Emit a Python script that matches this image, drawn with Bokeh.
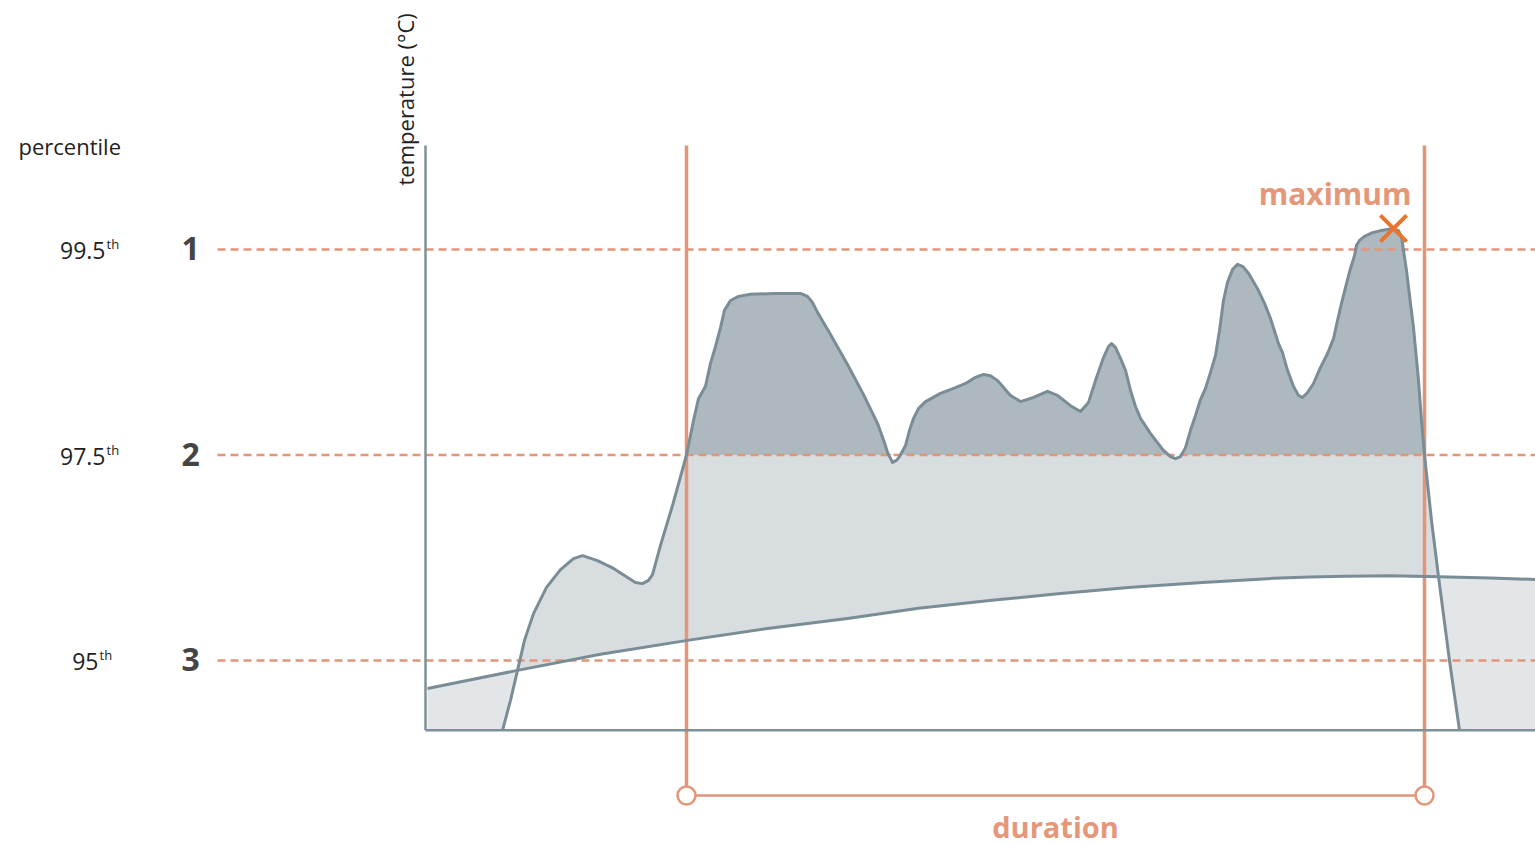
import math
import numpy as np
from bokeh.plotting import figure
from bokeh.models import Range1d, Label
from bokeh.embed import file_html
from bokeh.resources import INLINE

# ---------------- data (time index, temperature in degC) ----------------
obs_t = [7.7, 8.5, 9.2, 9.9, 10.8, 12.1, 13.5, 14.8, 15.7, 17.2, 18.8, 20.2, 21.0, 21.7, 22.3, 22.7,
         23.5, 24.7, 26.1, 26.8, 27.3, 28.0, 28.5, 29.0, 29.5, 29.9, 30.5, 31.3, 32.5, 35.0, 37.5,
         38.2, 38.7, 39.2, 40.5, 42.2, 43.8, 45.2, 45.9, 46.2, 46.7, 47.1, 47.4, 48.0, 48.4, 48.8,
         49.3, 50.0, 51.5, 53.0, 54.0, 55.0, 55.8, 56.5, 57.2, 58.5, 59.5, 60.8, 62.2, 63.2, 64.5,
         65.5, 66.3, 67.0, 67.8, 68.3, 68.6, 69.0, 69.5, 70.0, 70.5, 71.0, 71.5, 72.5, 73.8, 74.5,
         75.0, 75.5, 76.0, 76.5, 77.0, 77.5, 78.0, 78.5, 79.0, 79.4, 79.8, 80.2, 80.7, 81.2, 81.7,
         82.3, 83.3, 83.9, 84.5, 85.3, 85.7, 86.2, 86.8, 87.3, 87.7, 88.2, 88.8, 89.5, 90.2, 90.8,
         91.2, 91.6, 92.1, 92.5, 92.9, 93.1, 93.4, 93.9, 94.7, 95.7, 96.8, 97.3, 97.6, 97.8, 98.1,
         98.4, 98.8, 99.3, 99.6, 99.9, 100.6, 101.3, 102.4, 103.4]
obs_T = [28.30, 29.03, 29.76, 30.49, 31.14, 31.78, 32.21, 32.48, 32.55, 32.43, 32.24, 32.02, 31.90, 31.87, 31.95, 32.09,
         32.80, 33.77, 35.00, 35.84, 36.37, 36.67, 37.23, 37.64, 38.10, 38.52, 38.76, 38.86, 38.91, 38.93, 38.93,
         38.86, 38.71, 38.47, 37.93, 37.20, 36.47, 35.77, 35.30, 35.06, 34.82, 34.87, 34.96, 35.23, 35.60, 35.89,
         36.13, 36.30, 36.50, 36.64, 36.74, 36.89, 36.96, 36.93, 36.81, 36.45, 36.30, 36.40, 36.55, 36.45, 36.20,
         36.06, 36.28, 36.81, 37.37, 37.64, 37.71, 37.62, 37.35, 37.06, 36.57, 36.18, 35.89, 35.52, 35.11, 34.96,
         34.91, 34.96, 35.18, 35.60, 35.96, 36.35, 36.62, 37.01, 37.42, 38.03, 38.76, 39.20, 39.51, 39.64, 39.59,
         39.42, 39.00, 38.69, 38.32, 37.71, 37.49, 37.06, 36.67, 36.45, 36.40, 36.52, 36.74, 37.13, 37.47, 37.83,
         38.27, 38.69, 39.17, 39.54, 39.85, 40.10, 40.22, 40.32, 40.41, 40.47, 40.51, 40.46, 40.32, 39.98, 39.49,
         38.88, 38.10, 36.81, 35.84, 35.00, 33.41, 32.04, 30.00, 28.30]

clim_t = [0.2, 9.2, 17.5, 26.2, 34.2, 42.2, 49.3, 56.4, 63.5, 70.6, 77.7, 84.8, 88.5, 92.0, 96.5, 101.3, 106.5, 111.0]
clim_T = [29.32, 29.76, 30.15, 30.49, 30.78, 31.02, 31.27, 31.46, 31.63, 31.78, 31.90, 32.00, 32.03, 32.05, 32.06, 32.04, 32.01, 31.97]

pct_labels = ["99.5", "97.5", "95"]
pct_rank = ["1", "2", "3"]
pct_T = [40.0, 35.0, 30.0]

dur_start, dur_end = 26.1, 99.9
axis_base_T = 28.3
axis_top_T = 42.53
t_end = 111.0
cross_lo, cross_hi = 9.2, 101.3

# ---------------- layout ----------------
W, H = 1535, 845
PX_T, PX_C = 10.0, 41.1
x_lo = (0 - 425) / PX_T
x_hi = x_lo + W / PX_T
y_hi = 30 + (660 - 0) / PX_C
y_lo = y_hi - H / PX_C


def tx(px):
    return (px - 425) / PX_T


def ty(py):
    return 30 + (660 - py) / PX_C


ORANGE = "#e3957a"
GREY = "#7a8d96"
FONT = "Open Sans"

p = figure(width=W, height=H, x_range=Range1d(x_lo, x_hi), y_range=Range1d(y_lo, y_hi),
           output_backend="svg", toolbar_location=None, min_border=0,
           x_axis_type=None, y_axis_type=None, outline_line_color=None,
           background_fill_color="white", border_fill_color="white")
p.grid.visible = False

# light fill between observed and climatology curves (clipped at the base)
poly_x = [clim_t[0]] + obs_t + [t_end] + clim_t[::-1]
poly_y = [axis_base_T] + obs_T + [axis_base_T] + clim_T[::-1]
p.patch(poly_x, poly_y, fill_color="#e2e6e9", line_color=None)

i0, i1 = obs_t.index(cross_lo), obs_t.index(cross_hi)
j0, j1 = clim_t.index(cross_lo), clim_t.index(cross_hi)
lobe_x = obs_t[i0:i1 + 1] + clim_t[j0:j1 + 1][::-1]
lobe_y = obs_T[i0:i1 + 1] + clim_T[j0:j1 + 1][::-1]
p.patch(lobe_x, lobe_y, fill_color="#d8dde0", line_color=None)

# dark fill above the 97.5th percentile during the event
ot = np.array(obs_t)
oT = np.array(obs_T)
m = (ot >= dur_start) & (ot <= dur_end)
p.varea(x=ot[m], y1=np.full(m.sum(), pct_T[1]), y2=np.maximum(oT[m], pct_T[1]), fill_color="#aeb9bf")

# percentile threshold lines
p.segment(x0=[tx(217)] * 3, y0=pct_T, x1=[t_end] * 3, y1=pct_T,
          line_color=ORANGE, line_width=2.5, line_dash="8 5")

# duration markers
br_T = ty(795)
p.segment(x0=[dur_start, dur_end], y0=[br_T, br_T], x1=[dur_start, dur_end], y1=[axis_top_T, axis_top_T],
          line_color=ORANGE, line_width=3.5)
p.segment(x0=[dur_start], y0=[br_T], x1=[dur_end], y1=[br_T], line_color=ORANGE, line_width=2.5)
p.scatter([dur_start, dur_end], [br_T, br_T], marker="circle", size=18, fill_color="white",
          line_color=ORANGE, line_width=2.5)

# axes
p.line([0, 0], [axis_base_T, axis_top_T], line_color="#7f9198", line_width=2.5)
p.line([0, t_end], [axis_base_T, axis_base_T], line_color="#7f9198", line_width=2.5)

# curves
p.line(clim_t, clim_T, line_color=GREY, line_width=3, line_join="round")
p.line(obs_t, obs_T, line_color=GREY, line_width=3, line_join="round")

# maximum marker
imax = int(np.argmax(oT))
p.scatter([ot[imax]], [oT[imax]], marker="x", size=37, line_color="#e8742e", line_width=4)


# texts (positions given as on-screen pixel baselines)
def lab(xpx, ypx, text, size, color="#222222", align="left", bold=False, angle=0.0):
    p.add_layout(Label(x=tx(xpx), y=ty(ypx), text=text, text_font=FONT, text_font_size=size,
                       text_color=color, text_align=align, text_baseline="alphabetic",
                       text_font_style="bold" if bold else "normal", angle=angle))


lab(18, 145, "percentile", "22px")
lab(404, 185, "temperature (°C)", "22px", angle=math.pi / 2)
split_px = [105, 105, 98]
line_px = [249, 455, 660]
for lbl, rank, ly, sp in zip(pct_labels, pct_rank, line_px, split_px):
    lab(sp, ly + 1, lbl, "23px", align="right")
    lab(sp + 1, ly - 6, "th", "13px")
    lab(181, ly - 1, rank, "32px", color="#454545", bold=True)

lab(1411, 193, "maximum", "30px", color="#e5977a", align="right", bold=True)
lab(1055, 826, "duration", "29px", color="#e5977a", align="center", bold=True)

open("out.html", "w").write(file_html(p, INLINE))
